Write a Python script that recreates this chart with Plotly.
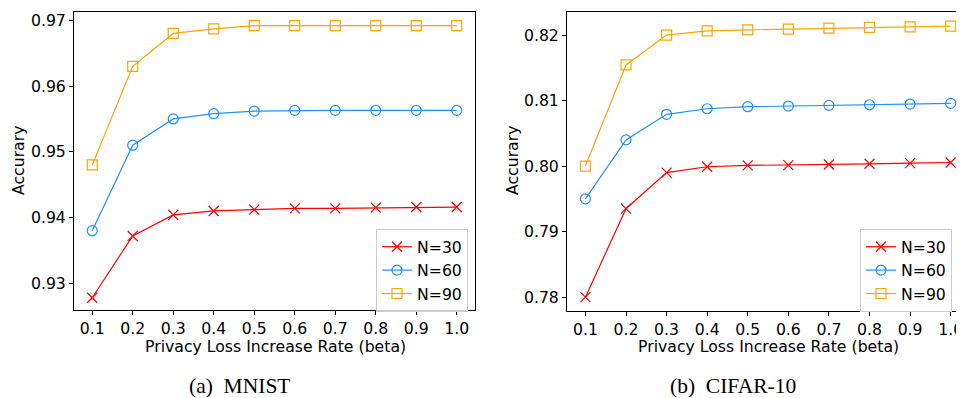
import plotly.graph_objects as go

beta = [0.1, 0.2, 0.3, 0.4, 0.5, 0.6, 0.7, 0.8, 0.9, 1.0]
beta_labels = ["0.1", "0.2", "0.3", "0.4", "0.5", "0.6", "0.7", "0.8", "0.9", "1.0"]

mnist_n30 = [0.9278, 0.9372, 0.9404, 0.9410, 0.9412, 0.9414, 0.9414, 0.9415, 0.9416, 0.9416]
mnist_n60 = [0.9380, 0.9510, 0.9550, 0.9558, 0.9562, 0.9563, 0.9563, 0.9563, 0.9563, 0.9563]
mnist_n90 = [0.9480, 0.9630, 0.9680, 0.9687, 0.9692, 0.9692, 0.9692, 0.9692, 0.9692, 0.9692]

cifar_n30 = [0.7800, 0.7935, 0.7990, 0.7999, 0.8001, 0.80015, 0.80024, 0.80035, 0.80046, 0.80055]
cifar_n60 = [0.7950, 0.8040, 0.8079, 0.80875, 0.80906, 0.80916, 0.80927, 0.80936, 0.80947, 0.80957]
cifar_n90 = [0.8000, 0.81544, 0.8200, 0.82065, 0.8208, 0.82091, 0.82106, 0.82117, 0.82126, 0.82137]

mnist_yticks = [0.93, 0.94, 0.95, 0.96, 0.97]
cifar_yticks = [0.78, 0.79, 0.80, 0.81, 0.82]

series_names = ["N=30", "N=60", "N=90"]
colors = ["#ff0000", "#1e90ff", "#ffa500"]
symbols = ["x-thin", "circle-open", "square-open"]
sizes = [10, 10, 10]

# page body has an 8px margin, so the figure is placed at (8, 8)
OFF = 8
W, H = 964 - OFF, 398 - OFF
def px(x):
    return (x - OFF) / W
def py(y):
    return 1 - (y - OFF) / H

fig = go.Figure()

for panel, (data, xa, ya, leg) in enumerate([
    ([mnist_n30, mnist_n60, mnist_n90], "x", "y", "legend"),
    ([cifar_n30, cifar_n60, cifar_n90], "x2", "y2", "legend2"),
]):
    for i, vals in enumerate(data):
        fig.add_trace(go.Scatter(
            x=beta, y=vals, name=series_names[i], mode="lines+markers",
            xaxis=xa, yaxis=ya, legend=leg,
            line=dict(color=colors[i], width=1.2),
            marker=dict(symbol=symbols[i], size=sizes[i], color=colors[i],
                        line=dict(color=colors[i], width=1.2)),
        ))

font = dict(family="DejaVu Sans", size=15.7, color="#000000")
common_x = dict(tickvals=beta, ticktext=beta_labels, ticks="outside", ticklen=4,
                tickcolor="#000", showgrid=False, zeroline=False, showline=True,
                linecolor="#000", linewidth=1, mirror=True, tickfont=font)
common_y = dict(ticks="outside", ticklen=4, tickcolor="#000", showgrid=False,
                zeroline=False, showline=True, linecolor="#000", linewidth=1,
                tickfont=font, tickformat=".2f")

fig.update_layout(
    width=W, height=H, margin=dict(l=0, r=0, t=0, b=0),
    paper_bgcolor="white", plot_bgcolor="white", font=font,
    xaxis=dict(domain=[px(74), px(475)], range=[0.055, 1.045], anchor="y", **common_x),
    yaxis=dict(domain=[py(310), py(12)], range=[0.92594, 0.97126], anchor="x",
               tickvals=mnist_yticks, mirror=True, **common_y),
    xaxis2=dict(domain=[px(567), 1.0], range=[0.0546, 1.0328], anchor="y2", **common_x),
    yaxis2=dict(domain=[py(310.7), py(12.3)], range=[0.77793, 0.82347], anchor="x2",
                tickvals=cifar_yticks, mirror=False, **common_y),
    legend=dict(x=px(468), y=py(229), xanchor="right", yanchor="top",
                bgcolor="rgba(255,255,255,0.8)", bordercolor="#cccccc", borderwidth=1,
                font=font, tracegroupgap=0, itemwidth=30),
    legend2=dict(x=px(860), y=py(229), xanchor="left", yanchor="top",
                 bgcolor="rgba(255,255,255,0.8)", bordercolor="#cccccc", borderwidth=1,
                 font=font, tracegroupgap=0, itemwidth=30),
    showlegend=True,
)

annotations = [
    dict(text="Accurary", x=px(19), y=py(161), textangle=-90),
    dict(text="Accurary", x=px(513), y=py(161), textangle=-90),
    dict(text="Privacy Loss Increase Rate (beta)", x=px(275), y=py(346)),
    dict(text="Privacy Loss Increase Rate (beta)", x=px(768), y=py(346)),
]
for a in annotations:
    fig.add_annotation(xref="paper", yref="paper", showarrow=False,
                       xanchor="center", yanchor="middle", font=font, **a)

serif = dict(family="Liberation Serif", size=21.5, color="#000")
fig.add_annotation(text="(a)  MNIST", x=px(240), y=py(386), xref="paper", yref="paper",
                   showarrow=False, xanchor="center", yanchor="middle", font=serif)
fig.add_annotation(text="(b)  CIFAR-10", x=px(733), y=py(386), xref="paper", yref="paper",
                   showarrow=False, xanchor="center", yanchor="middle", font=serif)

fig.write_html("out.html")
